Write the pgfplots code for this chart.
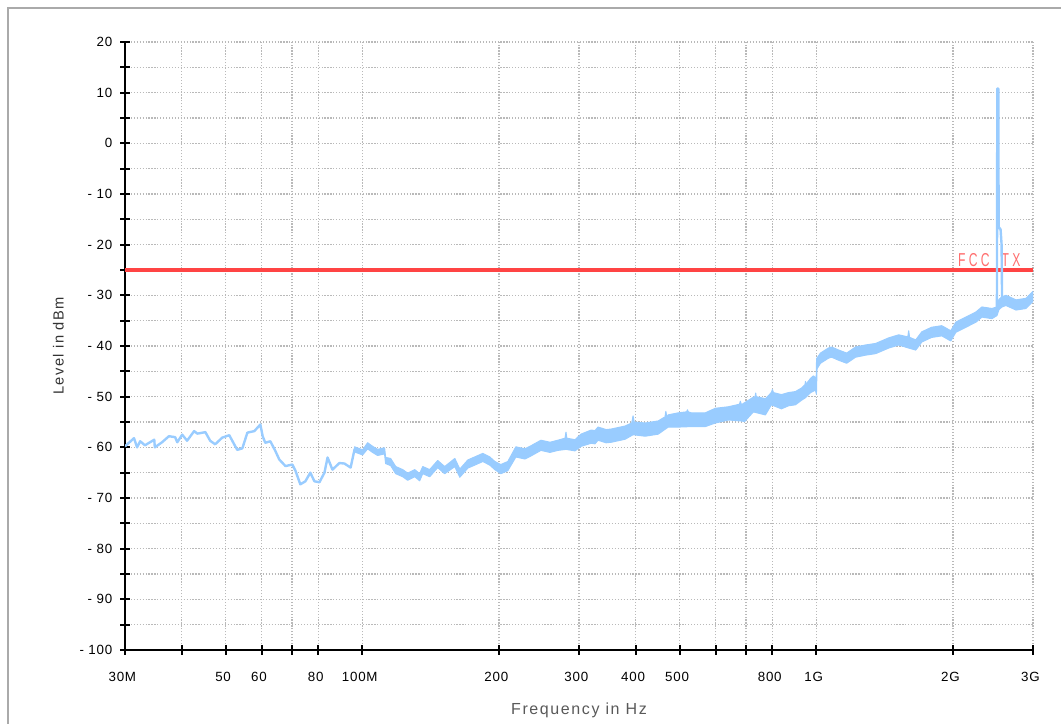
\documentclass[border=0pt]{standalone}
\usepackage{pgfplots}
\pgfplotsset{compat=1.18}
\usepackage{fontspec}
\setmainfont{Liberation Sans}
\newfontfamily\fccfont[FakeStretch=0.65]{Liberation Sans}
\newfontfamily\lblfont[LetterSpace=10]{Liberation Sans}
\newfontfamily\tickfont[LetterSpace=6]{Liberation Sans}
\definecolor{trace}{RGB}{153,204,255}
\definecolor{limred}{RGB}{255,68,68}
\definecolor{fcctext}{RGB}{255,110,110}
\definecolor{gridgray}{RGB}{185,185,185}
\definecolor{framegray}{RGB}{170,170,170}

\begin{document}
\begin{tikzpicture}
\useasboundingbox (0pt,0pt) rectangle (795.75pt,543pt);
\draw[framegray, line width=1.5pt] (6pt,-20pt) rectangle (820pt,537pt);
\begin{axis}[
  at={(93.75pt,55.5pt)}, anchor=south west,
  scale only axis, width=681pt, height=456pt,
  xmode=log, xmin=30, xmax=3000, ymin=-100, ymax=20,
  axis lines=left, axis line style={-, line width=1.5pt, black},
  xtick={30,40,50,60,70,80,100,200,300,400,500,600,700,800,1000,2000,3000},
  xticklabels={30M,,50,60,,80,100M,200,300,400,500,,,800,1G,2G,3G},
  minor xtick={},
  ytick={-100,-95,...,20},
  yticklabels={-\ 100,,-\ 90,,-\ 80,,-\ 70,,-\ 60,,-\ 50,,-\ 40,,-\ 30,,-\ 20,,-\ 10,,0,,10,,20},
  grid=major,
  major grid style={gridgray, line width=0.9pt, dash pattern=on 0.9pt off 1.3pt},
  tick style={black, line width=1.5pt},
  major tick length=7pt, tick align=center,
  tick label style={font=\fontsize{10}{12}\tickfont, text=black},
  xticklabel style={yshift=-9.75pt, xshift=-2pt},
  yticklabel style={xshift=-2.5pt},
  xlabel={Frequency in Hz}, ylabel={Level in dBm},
  xlabel style={at={(axis description cs:0.5,0)}, anchor=center, yshift=-45pt, font=\fontsize{12}{14}\lblfont, text=black!65},
  ylabel style={at={(axis description cs:0,0.5)}, anchor=center, yshift=50pt, font=\fontsize{11}{13}\lblfont, text=black!80},
]
\addplot[limred, line width=3pt] coordinates {(30,-25) (3000,-25)};
\node[anchor=base west, inner sep=0pt, text=fcctext, font=\fontsize{14}{14}\fccfont] at (axis cs:2049,-24.4) {F\kern2.5pt C\kern2.5pt C\kern9pt T\kern2.5pt X};
% 30 - 100 MHz
\addplot[trace, line width=1.8pt, line join=round] coordinates {
(30,-59.8) (31.4,-58.2) (31.9,-60) (32.4,-58.8) (33.2,-59.6) (34.8,-58.5) (34.9,-60)
(36.2,-59) (37.5,-57.8) (38.7,-58) (39.1,-59) (40.1,-57.5) (41.1,-58.7) (42.6,-56.8)
(43.3,-57.3) (45.1,-57) (46.2,-58.7) (47.4,-59.4) (49.1,-58.1) (50.9,-57.6) (53.0,-60.5)
(54.4,-60.2) (55.8,-57.1) (57.8,-56.8) (59.6,-55.5) (60.3,-57.8) (61.1,-59.1) (62.7,-58.8)
(64.3,-60.7) (65.6,-62.4) (67.7,-63.7) (70.1,-63.4) (71.2,-64.6) (73.0,-67.3) (74.9,-66.7)
(76.8,-65.0) (78.4,-66.7) (80.4,-66.9) (82.5,-65) (83.8,-62) (85.9,-64.4) (89.0,-63.1)
(91.3,-63.2) (94.2,-64) (96.1,-60.4) (100.1,-61)
};
% 96 MHz - 3 GHz : noise band, upper edge then lower edge
\addplot[trace, fill=trace, line width=0.8pt, line join=round] coordinates {
(96.1,-59.9) (100.1,-60.5) (102.7,-59.1) (105.3,-59.8) (108.0,-60.4) (111.9,-60.1) (112.5,-62.0)
(115.4,-62.2) (118.4,-63.8) (122.7,-64.4) (125.8,-65.1) (130.4,-64.4) (133.7,-65.2) (135.8,-63.8)
(140.7,-64.4) (146.5,-62.6) (151.8,-63.8) (159.8,-62.2) (163.9,-64.3) (170.7,-62.5) (176.8,-61.9)
(184.2,-61.2) (190.8,-61.9) (195.8,-62.8) (201.8,-63.4) (209.1,-62.8) (217.8,-59.9) (228.0,-60.3)
(235.1,-59.7) (247.3,-58.6) (258.9,-59.0) (269.6,-58.6) (279.5,-58.2) (280.8,-57.0) (282,-58.2)
(294.0,-58.5) (303.1,-57.4) (318.9,-56.6) (325.4,-56.7) (330.4,-56.0) (344.2,-56.5) (353.0,-56.4)
(379.1,-55.8) (392,-55.2) (394.7,-53.8) (397,-55.0) (419.5,-55.2) (448.2,-54.8) (464,-54.0)
(466,-52.9) (468,-54.0) (471.5,-53.6) (496.1,-53.2) (518,-53.0) (520,-52.6) (522,-53.0)
(530.0,-53.2) (569.2,-53.2) (598.9,-52.3) (639.8,-52.0) (677,-51.5) (680,-50.9) (683.6,-51.6)
(726.5,-50.1) (733,-50.0) (735,-49.3) (737,-50.0) (772.1,-50.4) (796.0,-49.2) (800,-48.6)
(804,-49.2) (837.5,-49.6) (867.8,-49.2) (899.3,-49.0) (927.2,-48.3) (944,-47.6) (946.2,-47.0)
(948,-47.6) (970.6,-46.4) (985,-45.9) (995,-46.3) (999,-46.5) (1001,-42.5) (1021,-41.4)
(1063,-40.4) (1080,-40.2) (1119,-40.8) (1166,-41.4) (1220,-40.2) (1284,-39.8) (1351,-39.5)
(1443,-38.4) (1518,-37.8) (1590,-38.2) (1597,-37.0) (1604,-38.3) (1655,-38.8) (1707,-37.2)
(1795,-36.3) (1889,-36.0) (1977,-37.0) (2028,-35.3) (2134,-34.3) (2245,-33.3) (2315,-32.3)
(2436,-32.6) (2498,-32.3) (2524,-30.8) (2563,-30.3) (2615,-30.0) (2752,-30.9) (2895,-30.6)
(3000,-29.2)
(3000,-31.2) (2895,-32.6) (2752,-32.9) (2615,-32.0) (2563,-32.3) (2524,-32.8) (2498,-34.0)
(2436,-34.6) (2315,-34.3) (2245,-35.3) (2134,-36.3) (2028,-37.3) (1977,-39.0) (1889,-38.0)
(1795,-38.3) (1707,-39.2) (1655,-40.8) (1597,-40.4) (1518,-39.8) (1443,-40.4) (1351,-41.5)
(1284,-41.8) (1220,-42.2) (1166,-43.4) (1119,-42.8) (1080,-42.2) (1063,-42.4) (1021,-43.4)
(1003,-44.5) (1000,-49.5) (995,-48.7) (970.6,-49.2) (946.2,-50.2) (927.2,-50.7) (899.3,-51.6)
(867.8,-51.8) (837.5,-52.4) (796.0,-51.6) (772.1,-53.6) (726.5,-53.0) (695,-54.9) (683.6,-54.8)
(639.8,-54.6) (598.9,-55.2) (569.2,-55.9) (530.0,-55.9) (496.1,-56.0) (471.5,-56.0) (448.2,-57.4)
(419.5,-57.8) (394.7,-57.5) (379.1,-58.4) (353.0,-59.0) (344.2,-59.1) (330.4,-58.6) (325.4,-59.3)
(318.9,-59.2) (303.1,-59.8) (294.0,-60.7) (280.8,-60.4) (269.6,-60.6) (258.9,-61.0) (247.3,-60.6)
(235.1,-61.7) (228.0,-62.3) (217.8,-61.9) (209.1,-64.6) (201.8,-65.2) (195.8,-64.4) (190.8,-63.5)
(184.2,-62.8) (176.8,-63.5) (170.7,-64.1) (163.9,-65.9) (159.8,-63.8) (151.8,-65.2) (146.5,-64.0)
(140.7,-65.8) (135.8,-65.2) (133.7,-66.6) (130.4,-65.8) (125.8,-66.5) (122.7,-65.8) (118.4,-65.2)
(115.4,-63.6) (112.5,-63.2) (111.9,-61.3) (108.0,-61.6) (105.3,-61.0) (102.7,-60.3) (100.1,-61.5)
(96.1,-60.9)
} -- cycle;
% carrier spike
\addplot[trace, line width=1.8pt, line join=round] coordinates {
(2498,-33) (2503,10.8) (2516,10.8) (2520,-16.5) (2545,-17) (2558,-20) (2565,-32)
};
\end{axis}
\end{tikzpicture}
\end{document}
